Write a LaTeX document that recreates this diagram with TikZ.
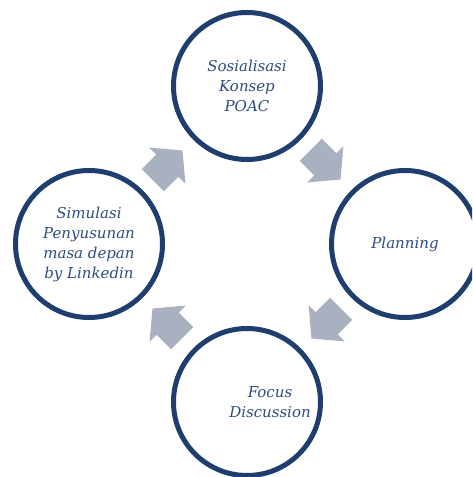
\documentclass[tikz,border=0pt]{standalone}
\usepackage{fontspec}
\setmainfont{DejaVu Serif}
\usepackage{tikz}
\usetikzlibrary{shapes.arrows}
\usetikzlibrary{positioning}
\definecolor{ringblue}{HTML}{1F3E6E}
\definecolor{textblue}{HTML}{2C4C80}
\definecolor{arrowgray}{HTML}{A9B0BF}
\tikzset{stage/.style={circle,draw=ringblue,line width=5pt,minimum size=147pt,inner sep=0pt,
    text=textblue,align=center,font=\itshape\fontsize{15}{20}\selectfont}
}
\tikzset{stagetext/.style={text=textblue,align=center,inner sep=0pt,font=\itshape\fontsize{15}{20}\selectfont}}
\tikzset{flow/.style={single arrow,fill=arrowgray,draw=none,inner xsep=0pt,inner ysep=15.5pt,minimum height=42pt,
    minimum width=51pt,single arrow head extend=10pt,single arrow tip angle=100}
}

\begin{document}
\begin{tikzpicture}[x=1pt,y=1pt]
    \useasboundingbox (0,0) rectangle (472,477);
    \clip (0,0) rectangle (472,477);
    % the four stages
    \node [stage] (Sosialisasi) at (247,391) {Sosialisasi\\Konsep\\POAC};
    \node [stage] (Planning) at (405,233) {Planning};
    \node [stage] (Focus) at (247,75) {};
    \node [stage] (Simulasi) at (89,233) {Simulasi\\Penyusunan\\masa depan\\by Linkedin};
    \node [stagetext] (FocusText) at ([xshift=23pt]Focus.center) {Focus\\Discussion};

    % block arrows, clockwise
    \node [flow,rotate=45] (ArrowA) at (163,307) {};
    \node [flow,rotate=-45] (ArrowB) at (321,317) {};
    \node [flow,rotate=-135] (ArrowC) at (331,158) {};
    \node [flow,rotate=135] (ArrowD) at (172,149) {};
\end{tikzpicture}
\end{document}
